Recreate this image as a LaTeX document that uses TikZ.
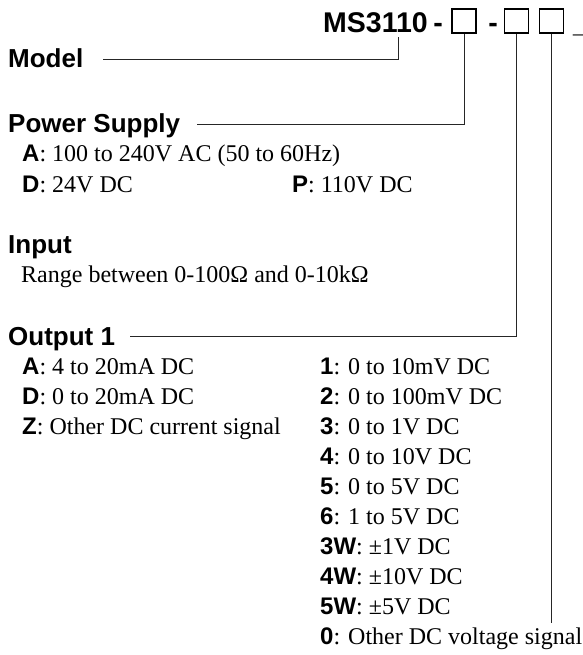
\documentclass[tikz,border=0pt]{standalone}
\usepackage{fontspec}
\setmainfont{Liberation Serif}
\newfontfamily\hdfont{Liberation Sans}
\newcommand\kb[1]{{\hdfont\bfseries #1}}
\begin{document}
\begin{tikzpicture}[x=1pt,y=-1pt,
  hd/.style={font=\hdfont\bfseries\fontsize{26}{30}\selectfont, anchor=base west, inner sep=0},
  ttl/.style={font=\hdfont\bfseries\fontsize{28.5}{32}\selectfont, inner sep=0},
  it/.style={font=\fontsize{24}{30}\selectfont, anchor=base west, inner sep=0},
  cbox/.style={draw, line width=1.4pt, minimum size=24pt, inner sep=0},
  conn/.style={line width=0.9pt, black!85}]
\useasboundingbox (0,0) rectangle (582,655);
% title
\node[ttl, anchor=base east] (title) at (428,33) {MS3110};
\node[ttl, anchor=base] (dash1) at (438,33) {-};
\node[ttl, anchor=base] (dash2) at (493,33) {-};
\node[cbox] (box1) at (464,21) {};
\node[cbox] (box2) at (516.5,21) {};
\node[cbox] (box3) at (551.5,21) {};
\node[ttl, anchor=base west] (tail) at (573,33) {\_};
% headings
\node[hd] (model) at (8,68) {Model};
\node[hd] (power) at (8,133) {Power Supply};
\node[hd] (input) at (8,253) {Input};
\node[hd] (out) at (8,345) {Output 1};
% power supply
\node[it] (pA) at (22,162) {\kb{A}: 100 to 240V AC (50 to 60Hz)};
\node[it] (pD) at (22,192) {\kb{D}: 24V DC};
\node[it] (pP) at (292,192) {\kb{P}: 110V DC};
% input
\node[it] (range) at (21,282) {Range between 0-100Ω and 0-10kΩ};
% output col 1
\node[it] (oA) at (22,374) {\kb{A}: 4 to 20mA DC};
\node[it] (oD) at (22,404) {\kb{D}: 0 to 20mA DC};
\node[it] (oZ) at (22,434) {\kb{Z}: Other DC current signal};
% output col 2
\node[it] (v1) at (320,374) {\kb{1}: 0 to 10mV DC};
\node[it] (v2) at (320,404) {\kb{2}: 0 to 100mV DC};
\node[it] (v3) at (320,434) {\kb{3}: 0 to 1V DC};
\node[it] (v4) at (320,464) {\kb{4}: 0 to 10V DC};
\node[it] (v5) at (320,494) {\kb{5}: 0 to 5V DC};
\node[it] (v6) at (320,524) {\kb{6}: 1 to 5V DC};
\node[it] (v3W) at (320,554) {\kb{3W}: ±1V DC};
\node[it] (v4W) at (320,584) {\kb{4W}: ±10V DC};
\node[it] (v5W) at (320,614) {\kb{5W}: ±5V DC};
\node[it] (v0) at (320,644) {\kb{0}: Other DC voltage signal};
% connectors
\coordinate (mtop) at (398,37);
\coordinate (mend) at (103,59);
\coordinate (pend) at (197,124);
\coordinate (oend) at (130,336);
\coordinate (vend) at (552,623);
\draw[conn] (mend) -| (mtop);
\draw[conn] (pend) -| (box1.south);
\draw[conn] (oend) -| (box2.south);
\draw[conn] (box3.south) -- (box3.south |- vend);
\end{tikzpicture}
\end{document}
